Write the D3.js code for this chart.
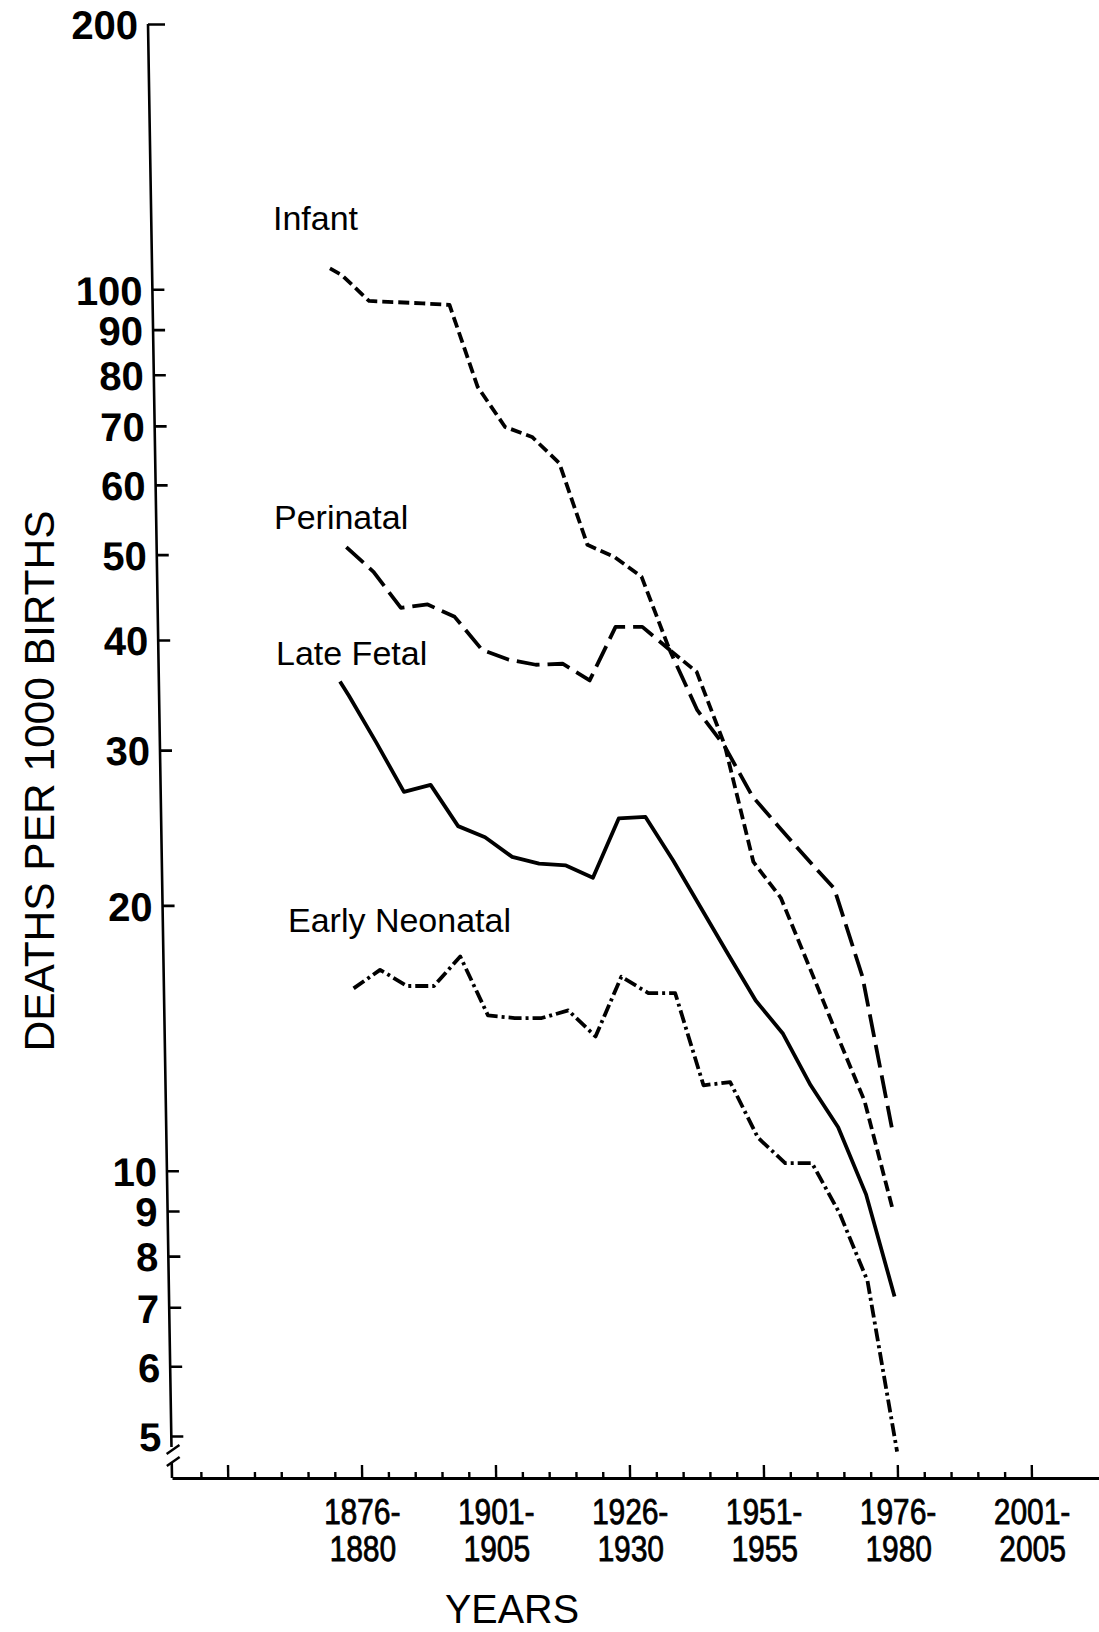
<!DOCTYPE html>
<html>
<head>
<meta charset="utf-8">
<script src="https://cdn.jsdelivr.net/npm/d3@7"></script>
<style>
  body { margin: 0; background: #fff; }
  svg { display: block; background: #fff; }
</style>
</head>
<body>
<div class="chart"></div>
<script>
// Data: deaths per 1000 births, by 5-year period
const periods = [
  "1876-1880", "1881-1885", "1886-1890", "1891-1895", "1896-1900",
  "1901-1905", "1906-1910", "1911-1915", "1916-1920", "1921-1925",
  "1926-1930", "1931-1935", "1936-1940", "1941-1945", "1946-1950",
  "1951-1955", "1956-1960", "1961-1965", "1966-1970", "1971-1975",
  "1976-1980"
];
const infant        = [103.8, 97.0, 96.7, 96.4, 96.0, 77.5, 69.8, 68.0, 63.5, 51.3, 49.7, 47.2, 39.0, 36.8, 30.4, 22.4, 20.4, 17.1, 14.3, 12.0, 9.0];
const perinatal     = [51.0, 47.8, 43.5, 43.9, 42.5, 39.0, 38.0, 37.5, 37.6, 36.0, 41.4, 41.4, 39.0, 33.3, 30.3, 26.6, 24.5, 22.6, 20.9, 16.6, 11.2];
const lateFetal     = [34.6, 30.6, 26.9, 27.4, 24.6, 23.9, 22.7, 22.3, 22.2, 21.5, 25.1, 25.2, 22.5, 19.9, 17.6, 15.6, 14.3, 12.5, 11.2, 9.4, 7.2];
const earlyNeonatal = [16.1, 16.9, 16.2, 16.2, 17.5, 15.0, 14.9, 14.9, 15.2, 14.2, 16.6, 15.9, 15.9, 12.5, 12.6, 10.9, 10.2, 10.2, 8.95, 7.5, 4.8];

// short pen lead-ins drawn before the first period
const infantLead    = { year: 1873.8, value: 105.6 };
const lateFetalLead = { year: 1874.4, value: 35.9 };

const yTicks  = [5, 6, 7, 8, 9, 10, 20, 30, 40, 50, 60, 70, 80, 90, 100, 200];
const xLabels = ["1876-1880", "1901-1905", "1926-1930", "1951-1955", "1976-1980", "2001-2005"];

// Layout
const W = 1099, H = 1632;
const axisX = 172, axisY = 1478;
const lean = 0.0165; // the original drawing leans a little to the right at the bottom

const x = d3.scaleLinear().domain([1840.6, 2013.6]).range([axisX, W]);
const y = d3.scaleLog().domain([5, 200]).range([1436, 24]);

const svg = d3.select(".chart").append("svg")
    .attr("width", W)
    .attr("height", H);

const plot = svg.append("g")
    .attr("transform", "matrix(1,0," + lean + ",1," + (-lean * axisY) + ",0)");

// Y axis
const yAxis = d3.axisLeft(y)
    .tickValues(yTicks)
    .tickFormat(d3.format("d"))
    .tickSizeInner(-12)
    .tickSizeOuter(0)
    .tickPadding(10);

const gy = plot.append("g")
    .attr("transform", "translate(" + axisX + ",0)")
    .call(yAxis);
gy.select(".domain").remove();
gy.selectAll(".tick line").attr("stroke", "#000").attr("stroke-width", 2.6);
gy.selectAll(".tick").filter(d => d === 200).select("line").attr("x2", 17);
gy.selectAll(".tick text")
    .attr("fill", "#000")
    .attr("dy", "0.37em")
    .style("font-family", "'Liberation Sans', Arial, sans-serif")
    .style("font-size", "40px")
    .style("font-weight", "bold");

// y axis line with a break just below 5
const yb = y(5);
plot.append("path")
    .attr("d", "M" + axisX + "," + y(200) + "V" + (yb + 11)
        + "M" + axisX + "," + (yb + 26) + "V" + axisY)
    .attr("fill", "none").attr("stroke", "#000").attr("stroke-width", 2.6);
[yb + 14, yb + 26].forEach(by => {
  plot.append("line")
      .attr("x1", axisX - 5).attr("y1", by + 4)
      .attr("x2", axisX + 8).attr("y2", by - 5)
      .attr("stroke", "#000").attr("stroke-width", 2.4);
});

// X axis
const xAxis = d3.axisBottom(x)
    .tickValues(d3.range(1846, 2002, 5))
    .tickFormat("")
    .tickSizeInner(-6)
    .tickSizeOuter(0);

const gx = plot.append("g")
    .attr("transform", "translate(0," + axisY + ")")
    .call(xAxis);
gx.select(".domain").attr("stroke", "#000").attr("stroke-width", 2.8);
gx.selectAll(".tick line").attr("stroke", "#000").attr("stroke-width", 2.4);
gx.selectAll(".tick").filter(d => (d - 1876) % 25 === 0).select("line").attr("y2", -13);

const xl = plot.append("g")
    .selectAll("text")
    .data(xLabels)
    .enter().append("text")
    .attr("transform", d => "translate(" + x(+d.slice(0, 4)) + "," + axisY + ") scale(0.83,1)")
    .attr("text-anchor", "middle")
    .style("font-family", "'Liberation Sans', Arial, sans-serif")
    .style("font-size", "36px")
    .attr("fill", "#000")
    .attr("stroke", "#000")
    .attr("stroke-width", 0.8);
xl.append("tspan").attr("x", 0).attr("y", 46).text(d => d.slice(0, 5));
xl.append("tspan").attr("x", 0).attr("y", 83).text(d => d.slice(5));

// Series
const series = [
  { name: "Infant",         values: infant,        lead: infantLead,    dash: "11,5" },
  { name: "Perinatal",      values: perinatal,     lead: null,          dash: "23,8" },
  { name: "Late Fetal",     values: lateFetal,     lead: lateFetalLead, dash: null },
  { name: "Early Neonatal", values: earlyNeonatal, lead: null,          dash: "13,4,3,4" }
];

const line = d3.line()
    .x(d => x(d.year))
    .y(d => y(d.value));

series.forEach(s => {
  let pts = periods.map((p, i) => ({ year: +p.slice(0, 4), value: s.values[i] }));
  if (s.lead) pts.unshift(s.lead);
  plot.append("path")
      .datum(pts)
      .attr("d", line)
      .attr("fill", "none")
      .attr("stroke", "#000")
      .attr("stroke-width", 3.8)
      .attr("stroke-linejoin", "round")
      .attr("stroke-dasharray", s.dash);
});

// Series labels
const labelPos = { "Infant": [273, 230], "Perinatal": [274, 529], "Late Fetal": [276, 665], "Early Neonatal": [288, 932] };
svg.selectAll(".series-label")
    .data(series)
    .enter().append("text")
    .attr("class", "series-label")
    .attr("x", d => labelPos[d.name][0])
    .attr("y", d => labelPos[d.name][1])
    .style("font-family", "'Liberation Sans', Arial, sans-serif")
    .style("font-size", "34px")
    .attr("fill", "#000")
    .text(d => d.name);

// Axis titles
svg.append("text")
    .attr("x", 512)
    .attr("y", 1623)
    .attr("text-anchor", "middle")
    .attr("textLength", 134)
    .attr("lengthAdjust", "spacingAndGlyphs")
    .style("font-family", "'Liberation Sans', Arial, sans-serif")
    .style("font-size", "41px")
    .text("YEARS");

svg.append("text")
    .attr("transform", "translate(54,781) rotate(-90)")
    .attr("text-anchor", "middle")
    .attr("textLength", 541)
    .attr("lengthAdjust", "spacingAndGlyphs")
    .style("font-family", "'Liberation Sans', Arial, sans-serif")
    .style("font-size", "42px")
    .text("DEATHS PER 1000 BIRTHS");
</script>
</body>
</html>
